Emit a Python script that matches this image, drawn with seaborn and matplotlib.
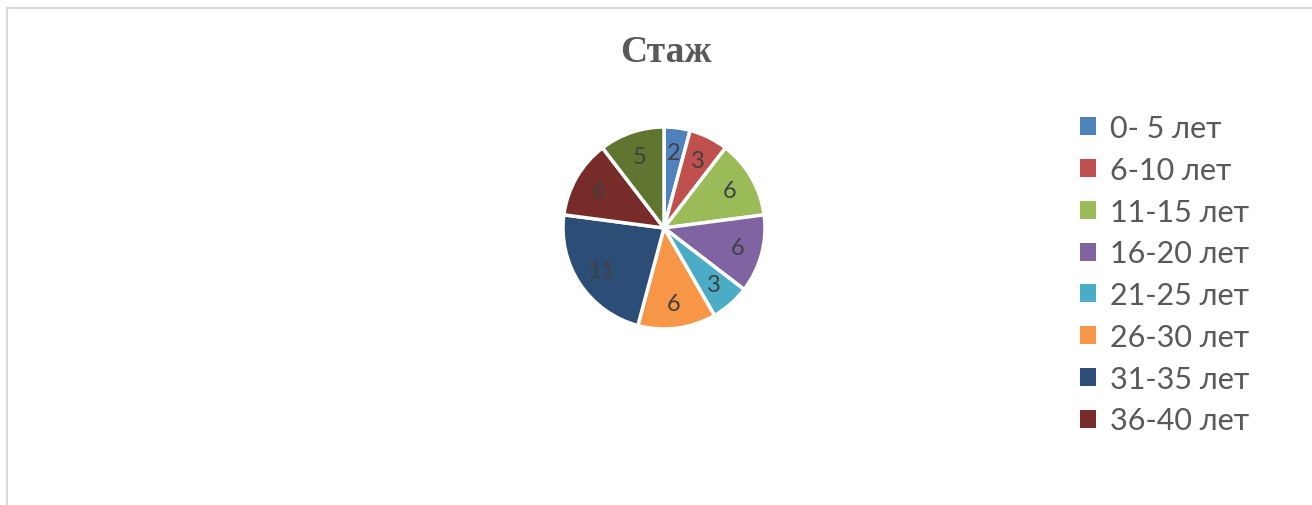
import matplotlib.pyplot as plt
import seaborn as sns
from matplotlib.patches import Rectangle

# Data
categories = ["0- 5 лет", "6-10 лет", "11-15 лет", "16-20 лет", "21-25 лет",
              "26-30 лет", "31-35 лет", "36-40 лет", "41-45 лет"]
values = [2, 3, 6, 6, 3, 6, 11, 6, 5]
colors = ["#4F81BD", "#C0504D", "#9BBB59", "#8064A2", "#4BACC6",
          "#F79646", "#2C4D75", "#772C2A", "#5F7530"]

sns.set_style("white")
plt.rcParams['font.family'] = ['Lato', 'DejaVu Sans']

W, H = 1312, 506
fig = plt.figure(figsize=(W / 100, H / 100), dpi=100)

# chart frame (cropped at right and bottom)
fig.add_artist(Rectangle((7 / W, -0.1), 1.2, 1 - 9 / H + 0.1, transform=fig.transFigure,
                         fill=False, edgecolor="#D9D9D9", linewidth=1.5))

# pie axes: center (664, 229), radius 100 px
cx, cy, r = 664, 229, 101
ax = fig.add_axes([(cx - r) / W, 1 - (cy + r) / H, 2 * r / W, 2 * r / H])
wedges, texts = ax.pie(values, colors=colors, startangle=90, counterclock=False,
                       labels=[str(v) for v in values], labeldistance=0.75,
                       wedgeprops=dict(edgecolor="white", linewidth=2.5),
                       textprops=dict(color="#404040", fontsize=17))
for t in texts:
    t.set_ha("center")
    t.set_va("center")
ax.set_xlim(-1, 1)
ax.set_ylim(-1, 1)
ax.set_aspect("equal")
ax.axis("off")

fig.text(666 / W, 1 - 53 / H, "Стаж", ha="center", va="center",
         fontsize=27, fontweight="bold", color="#595959", family="Liberation Serif")

# legend (only first 8 entries fit in the frame)
leg = fig.legend(wedges[:8], categories[:8], loc="upper left",
                 bbox_to_anchor=(1068 / W, 1 - 103 / H), frameon=False,
                 fontsize=22, handlelength=0.52, handleheight=0.52,
                 handletextpad=0.45, labelspacing=0.45, borderaxespad=0)
for txt in leg.get_texts():
    txt.set_color("#595959")
for h in leg.legend_handles:
    h.set_edgecolor("none")

fig.savefig("out.png", dpi=100)
